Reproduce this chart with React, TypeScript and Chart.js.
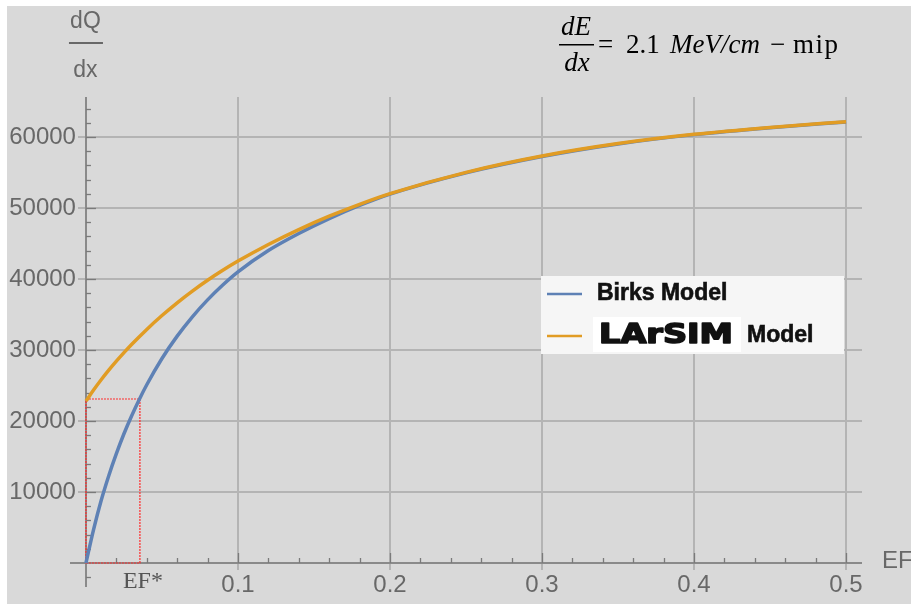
import React, { useEffect, useRef } from "react";
import { Chart, registerables } from "chart.js";
Chart.register(...registerables);

// ---- data ----
const birksEF = [0, 0.005, 0.01, 0.015, 0.02, 0.025, 0.03, 0.035, 0.04, 0.05, 0.06, 0.07, 0.08, 0.09, 0.1, 0.12, 0.14, 0.16, 0.18, 0.2, 0.25, 0.3, 0.35, 0.4, 0.45, 0.5];
const birksQ = [0, 4700, 8800, 12300, 15400, 18200, 20700, 23000, 25100, 28800, 31950, 34680, 37060, 39150, 41000, 44000, 46400, 48500, 50350, 51950, 54950, 57250, 59020, 60330, 61310, 62110];
const larsimEF = [0, 0.005, 0.01, 0.015, 0.02, 0.025, 0.03, 0.04, 0.05, 0.06, 0.07, 0.08, 0.09, 0.1, 0.12, 0.14, 0.16, 0.18, 0.2, 0.25, 0.3, 0.35, 0.4, 0.45, 0.5];
const larsimQ = [22800, 24350, 25800, 27150, 28420, 29620, 30770, 32900, 34850, 36650, 38300, 39820, 41220, 42520, 44860, 46960, 48840, 50520, 52020, 55020, 57320, 59070, 60370, 61345, 62145];
const efStar = 0.0355;
const qStar = 23100;
const xTickValues = [0.1, 0.2, 0.3, 0.4, 0.5];
const xTickLabels = ["0.1", "0.2", "0.3", "0.4", "0.5"];
const yTickValues = [10000, 20000, 30000, 40000, 50000, 60000];
const yTickLabels = ["10000", "20000", "30000", "40000", "50000", "60000"];
const seriesNames = ["Birks Model", "LArSIM", "Model"];
const xRange = [-0.0105, 0.5105];
const yRange = [-3380, 65630];

const W = 904;
const H = 598;
const BLUE = "#5e81b5";
const ORANGE = "#e19c24";
const SANS = '"Liberation Sans", Arial, sans-serif';
const SERIF = '"Liberation Serif", "Times New Roman", serif';

const decor = {
  id: "decor",
  beforeDatasetsDraw(chart: any) {
    const ctx = chart.ctx;
    const xs = chart.scales.x;
    const ys = chart.scales.y;
    const X = (v: number) => xs.getPixelForValue(v);
    const Y = (v: number) => ys.getPixelForValue(v);
    const x0 = X(0);
    const y0 = Y(0);
    const { left, right, top, bottom } = chart.chartArea;
    ctx.save();
    // grid
    ctx.strokeStyle = "#b4b4b4";
    ctx.lineWidth = 2;
    xTickValues.forEach((v) => {
      ctx.beginPath();
      ctx.moveTo(Math.round(X(v)), top);
      ctx.lineTo(Math.round(X(v)), y0 + 7);
      ctx.stroke();
    });
    yTickValues.forEach((v) => {
      ctx.beginPath();
      ctx.moveTo(left + 8, Math.round(Y(v)));
      ctx.lineTo(right, Math.round(Y(v)));
      ctx.stroke();
    });
    // axes
    ctx.strokeStyle = "#8a8a8a";
    ctx.lineWidth = 2;
    ctx.beginPath();
    ctx.moveTo(left, Math.round(y0));
    ctx.lineTo(right, Math.round(y0));
    ctx.moveTo(Math.round(x0), top);
    ctx.lineTo(Math.round(x0), bottom);
    ctx.stroke();
    // ticks
    ctx.lineWidth = 1.3;
    ctx.strokeStyle = "#7a7a7a";
    for (let i = 1; i <= 25; i++) {
      const v = i * 0.02;
      const len = i % 5 === 0 ? 10 : 5;
      ctx.beginPath();
      ctx.moveTo(Math.round(X(v)) + 0.5, y0);
      ctx.lineTo(Math.round(X(v)) + 0.5, y0 - len);
      ctx.stroke();
    }
    for (let q = -2000; q <= 64000; q += 2000) {
      if (q === 0) continue;
      const len = q % 10000 === 0 ? 10 : 5;
      ctx.beginPath();
      ctx.moveTo(x0, Math.round(Y(q)) + 0.5);
      ctx.lineTo(x0 + len, Math.round(Y(q)) + 0.5);
      ctx.stroke();
    }
    ctx.restore();
  },
  afterDraw(chart: any) {
    const ctx = chart.ctx;
    const xs = chart.scales.x;
    const ys = chart.scales.y;
    const X = (v: number) => xs.getPixelForValue(v);
    const Y = (v: number) => ys.getPixelForValue(v);
    const x0 = X(0);
    const y0 = Y(0);
    const { right } = chart.chartArea;
    ctx.save();
    // tick labels
    ctx.fillStyle = "#686868";
    ctx.font = `24px ${SANS}`;
    ctx.textBaseline = "alphabetic";
    ctx.textAlign = "right";
    yTickValues.forEach((v, i) => ctx.fillText(yTickLabels[i], x0 - 10, Y(v) + 7));
    ctx.textAlign = "center";
    xTickValues.forEach((v, i) => ctx.fillText(xTickLabels[i], X(v), y0 + 29));
    // axis labels
    ctx.textAlign = "left";
    ctx.fillText("EF", right + 20, y0 + 5);
    ctx.textAlign = "center";
    ctx.font = `23px ${SANS}`;
    ctx.fillText("dQ", x0 - 0.5, 22);
    ctx.fillText("dx", x0 - 0.5, 71);
    ctx.fillRect(x0 - 17, 36, 34, 2);
    // EF*
    ctx.fillStyle = "#555555";
    ctx.font = `24px ${SERIF}`;
    ctx.fillText("EF*", X(efStar) + 3, y0 + 25);
    // formula
    ctx.fillStyle = "#000000";
    ctx.font = `italic 27px ${SERIF}`;
    ctx.fillText("dE", 569, 29);
    ctx.fillText("dx", 570, 65);
    ctx.fillRect(552, 38, 35, 1.5);
    ctx.textAlign = "left";
    ctx.font = `27px ${SERIF}`;
    ctx.fillText("=", 591, 47);
    ctx.fillText("2.1", 619, 47);
    ctx.font = `italic 27px ${SERIF}`;
    ctx.fillText("MeV/cm", 663, 47);
    ctx.font = `27px ${SERIF}`;
    ctx.fillText("\u2212", 763, 47);
    (ctx as any).letterSpacing = "1.5px";
    ctx.fillText("mip", 786, 47);
    (ctx as any).letterSpacing = "0px";
    // legend
    ctx.fillStyle = "#f6f6f6";
    ctx.fillRect(534, 270, 303, 78);
    ctx.lineWidth = 2.5;
    ctx.strokeStyle = BLUE;
    ctx.beginPath();
    ctx.moveTo(540, 288);
    ctx.lineTo(575, 288);
    ctx.stroke();
    ctx.strokeStyle = ORANGE;
    ctx.beginPath();
    ctx.moveTo(540, 330);
    ctx.lineTo(575, 330);
    ctx.stroke();
    ctx.fillStyle = "#111111";
    ctx.strokeStyle = "#111111";
    ctx.font = `bold 23px ${SANS}`;
    ctx.textAlign = "left";
    ctx.lineWidth = 0.6;
    ctx.fillText(seriesNames[0], 590, 294);
    ctx.strokeText(seriesNames[0], 590, 294);
    ctx.fillStyle = "#ffffff";
    ctx.fillRect(586, 311, 148, 35);
    ctx.fillStyle = "#111111";
    ctx.font = `bold 26px "DejaVu Sans", ${SANS}`;
    const w = ctx.measureText(seriesNames[1]).width;
    ctx.save();
    ctx.translate(592, 337);
    ctx.scale(134 / w, 1);
    ctx.lineWidth = 1.6;
    ctx.lineJoin = "round";
    ctx.fillText(seriesNames[1], 0, 0);
    ctx.strokeText(seriesNames[1], 0, 0);
    ctx.restore();
    ctx.lineWidth = 0.6;
    ctx.font = `bold 23px ${SANS}`;
    ctx.fillText(seriesNames[2], 740, 336);
    ctx.strokeText(seriesNames[2], 740, 336);
    ctx.restore();
  },
};

export default function App() {
  const ref = useRef<HTMLCanvasElement | null>(null);
  useEffect(() => {
    if (!ref.current) return;
    const chart = new Chart(ref.current, {
      type: "line",
      data: {
        datasets: [
          {
            label: "LArSIM Model",
            data: larsimEF.map((x, i) => ({ x, y: larsimQ[i] })),
            borderColor: ORANGE,
            borderWidth: 3.5,
            pointRadius: 0,
            cubicInterpolationMode: "monotone",
          },
          {
            label: "Birks Model",
            data: birksEF.map((x, i) => ({ x, y: birksQ[i] })),
            borderColor: BLUE,
            borderWidth: 3.5,
            pointRadius: 0,
            cubicInterpolationMode: "monotone",
          },
          {
            label: "EF*",
            data: [
              { x: 0, y: qStar },
              { x: efStar, y: qStar },
              { x: efStar, y: 0 },
              { x: 0, y: 0 },
              { x: 0, y: qStar },
            ],
            borderColor: "#ff2a2a",
            borderWidth: 1.2,
            borderDash: [2, 1],
            pointRadius: 0,
            tension: 0,
          },
        ],
      },
      options: {
        responsive: false,
        animation: false,
        devicePixelRatio: 1,
        layout: { padding: { left: 63, top: 91, right: 49, bottom: 17 } },
        plugins: { legend: { display: false }, tooltip: { enabled: false } },
        scales: {
          x: { type: "linear", min: xRange[0], max: xRange[1], display: false },
          y: { type: "linear", min: yRange[0], max: yRange[1], display: false },
        },
      },
      plugins: [decor],
    } as any);
    return () => chart.destroy();
  }, []);
  return (
    <div style={{ position: "absolute", left: 7, top: 6, width: W, height: H, background: "#d9d9d9" }}>
      <canvas ref={ref} width={W} height={H} style={{ display: "block" }} />
    </div>
  );
}
